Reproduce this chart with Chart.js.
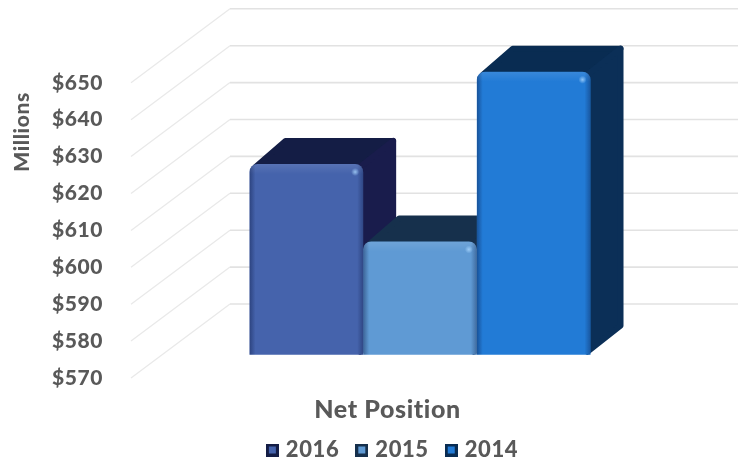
<!DOCTYPE html>
<html>
<head>
<meta charset="utf-8">
<style>
    html, body { margin: 0; padding: 0; background: #fff; }
    canvas { display: block; }
</style>
<script src="https://cdn.jsdelivr.net/npm/chart.js@4"></script>
</head>
<body>
<canvas id="chart" width="738" height="460"></canvas>
<script>
const categories = ["Net Position"];
const seriesNames = ["2016", "2015", "2014"];
const values2016 = [621.7];
const values2015 = [600.7];
const values2014 = [646.7];
const frontColors = ["#4563AC", "#5F9AD4", "#227BD6"];
const sideColors = ["#191C4C", "#17314F", "#0B2F57"];
const topColors = ["#141D45", "#16304C", "#092C52"];
const textColor = "#595959";
const fontFamily = "Lato, 'Open Sans', sans-serif";

// slant of the floor and of the bars
const wallDx = 99, wallDy = -74;
const barDx = 33, barDy = -26;

function makeMarker(i) {
    const c = document.createElement("canvas");
    c.width = 13; c.height = 13;
    const g = c.getContext("2d");
    g.fillStyle = topColors[i];
    g.fillRect(0, 0, 13, 13);
    g.fillStyle = frontColors[i];
    g.fillRect(3, 3, 7, 7);
    return c;
}

function roundedPoly(ctx, pts, color) {
    const inset = 3;
    ctx.save();
    ctx.fillStyle = color;
    ctx.strokeStyle = color;
    ctx.lineWidth = inset * 2;
    ctx.lineJoin = "round";
    ctx.beginPath();
    pts.forEach((p, i) => i ? ctx.lineTo(p[0], p[1]) : ctx.moveTo(p[0], p[1]));
    ctx.closePath();
    ctx.fill();
    ctx.stroke();
    ctx.restore();
}

const threeD = {
    id: "threeD",
    beforeLayout(chart) {
        chart.ctx.letterSpacing = "0.6px";
    },
    afterLayout(chart) {
        // legend sits a little right of the middle and low in the frame
        chart.legend.left += 33;
        chart.legend.top += 11;
    },
    beforeDraw(chart) {
        chart.ctx.letterSpacing = "0.6px";
    },
    beforeDatasetsDraw(chart) {
        const ctx = chart.ctx;
        const yScale = chart.scales.y;
        const area = chart.chartArea;

        // back wall + floor lines
        ctx.save();
        yScale.ticks.forEach(t => {
            const y = yScale.getPixelForValue(t.value);
            ctx.strokeStyle = "#E9E9E9";
            ctx.lineWidth = 1.3;
            ctx.beginPath();
            ctx.moveTo(area.left, y);
            ctx.lineTo(area.left + wallDx, y + wallDy);
            ctx.stroke();
            ctx.strokeStyle = "#E2E2E2";
            ctx.lineWidth = 1.6;
            ctx.beginPath();
            ctx.moveTo(area.left + wallDx, y + wallDy);
            ctx.lineTo(chart.width, y + wallDy);
            ctx.stroke();
        });

        // top and side of each bar, all behind the front faces
        seriesNames.forEach((name, i) => {
            const bar = chart.getDatasetMeta(i).data[0];
            const left = bar.x - bar.width / 2, right = bar.x + bar.width / 2;
            roundedPoly(ctx, [
                [left + 6, bar.y + 3],
                [left + barDx + 3, bar.y + barDy + 3],
                [right + barDx - 3, bar.y + barDy + 3],
                [right - 3, bar.y + 3]
            ], topColors[i]);
            roundedPoly(ctx, [
                [right - 3, bar.y + 3],
                [right + barDx - 3, bar.y + barDy + 3],
                [right + barDx - 3, bar.base + barDy - 3],
                [right - 3, bar.base - 3]
            ], sideColors[i]);
        });
        ctx.restore();
    },
    afterDatasetDraw(chart, args) {
        const ctx = chart.ctx;
        const bar = chart.getDatasetMeta(args.index).data[0];
        const left = bar.x - bar.width / 2, right = bar.x + bar.width / 2;
        const h = bar.base - bar.y;

        // bevel along the edges of the front face
        ctx.save();
        ctx.beginPath();
        ctx.roundRect(left, bar.y, bar.width, h, [8, 8, 0, 0]);
        ctx.clip();
        let g = ctx.createLinearGradient(left, 0, left + 6, 0);
        g.addColorStop(0, "rgba(8,20,60,0.4)");
        g.addColorStop(1, "rgba(8,20,60,0)");
        ctx.fillStyle = g;
        ctx.fillRect(left, bar.y, 6, h);
        g = ctx.createLinearGradient(right - 6, 0, right, 0);
        g.addColorStop(0, "rgba(8,20,60,0)");
        g.addColorStop(1, "rgba(8,20,60,0.35)");
        ctx.fillStyle = g;
        ctx.fillRect(right - 6, bar.y, 6, h);
        g = ctx.createLinearGradient(0, bar.y, 0, bar.y + 10);
        g.addColorStop(0, "rgba(255,255,255,0.1)");
        g.addColorStop(1, "rgba(255,255,255,0)");
        ctx.fillStyle = g;
        ctx.fillRect(left, bar.y, bar.width, 10);
        g = ctx.createRadialGradient(right - 8, bar.y + 8, 0, right - 8, bar.y + 8, 4);
        g.addColorStop(0, "rgba(170,215,255,0.8)");
        g.addColorStop(1, "rgba(170,215,255,0)");
        ctx.fillStyle = g;
        ctx.fillRect(right - 13, bar.y + 3, 10, 10);
        ctx.restore();
    },
    afterDraw(chart) {
        const ctx = chart.ctx;
        ctx.save();
        ctx.fillStyle = textColor;
        ctx.textAlign = "center";
        ctx.textBaseline = "middle";
        ctx.font = "900 25px " + fontFamily;
        ctx.fillText("Net Position", 387.5, 410);
        ctx.translate(22, 132);
        ctx.rotate(-Math.PI / 2);
        ctx.font = "900 21px " + fontFamily;
        ctx.fillText("Millions", 0, 0);
        ctx.restore();
    }
};

new Chart(document.getElementById("chart"), {
    type: "bar",
    data: {
        labels: categories,
        datasets: [
            { label: seriesNames[0], data: values2016, backgroundColor: frontColors[0], yAxisID: "y2" },
            { label: seriesNames[1], data: values2015, backgroundColor: frontColors[1], yAxisID: "y2" },
            { label: seriesNames[2], data: values2014, backgroundColor: frontColors[2], yAxisID: "y2" }
        ]
    },
    options: {
        responsive: false,
        animation: false,
        layout: { padding: { left: 46, right: 29, top: 9, bottom: 0 } },
        datasets: {
            bar: {
                base: 570,
                categoryPercentage: 0.59,
                barPercentage: 1,
                borderSkipped: "bottom",
                borderRadius: { topLeft: 8, topRight: 8, bottomLeft: 0, bottomRight: 0 }
            }
        },
        plugins: {
            tooltip: { enabled: false },
            legend: {
                position: "bottom",
                labels: {
                    color: textColor,
                    font: { family: fontFamily, size: 22, weight: "900" },
                    usePointStyle: true,
                    boxWidth: 5,
                    padding: 20,
                    generateLabels(chart) {
                        return seriesNames.map((name, i) => ({
                            text: name,
                            datasetIndex: i,
                            pointStyle: makeMarker(i),
                            fontColor: textColor,
                            fillStyle: frontColors[i],
                            strokeStyle: frontColors[i],
                            lineWidth: 0
                        }));
                    }
                }
            }
        },
        scales: {
            x: {
                grid: { display: false },
                border: { display: false },
                ticks: { display: false },
                afterFit(scale) { scale.height = 30; }
            },
            y: {
                min: 570,
                max: 670,
                afterFit(scale) {
                    scale.width = 85;
                    scale.paddingTop = 0;
                    scale.paddingBottom = 0;
                },
                afterBuildTicks(scale) { scale.ticks = scale.ticks.filter(t => t.value <= 650); },
                grid: { display: false },
                border: { display: false },
                ticks: {
                    stepSize: 10,
                    padding: 20,
                    color: textColor,
                    font: { family: fontFamily, size: 21, weight: "900" },
                    callback: v => "$" + v
                }
            },
            // same spacing as y, pushed up to the plane the bars stand on
            y2: { display: false, min: 563.7, max: 663.7 }
        }
    },
    plugins: [threeD]
});
</script>
</body>
</html>
